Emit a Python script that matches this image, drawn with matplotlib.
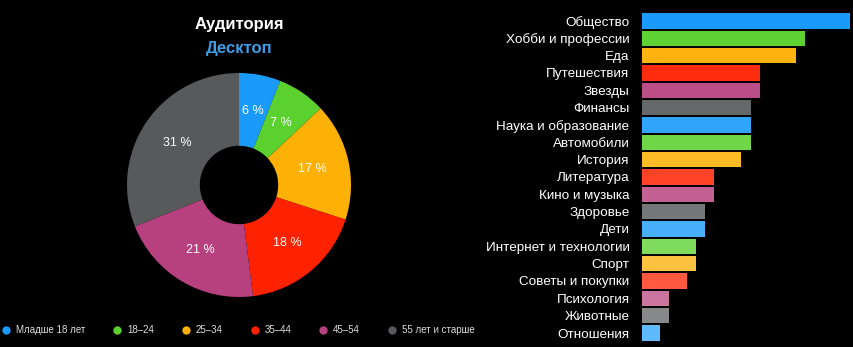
import numpy as np
import matplotlib.pyplot as plt
from matplotlib.colors import to_rgb
from matplotlib.lines import Line2D

plt.rcParams['font.family'] = ['Liberation Sans', 'DejaVu Sans']

# age groups (donut)
age_labels = ["Младше 18 лет", "18–24", "25–34", "35–44", "45–54", "55 лет и старше"]
age_share = [6, 7, 17, 18, 21, 31]

# interests (bars), %
topics = ["Общество", "Хобби и профессии", "Еда", "Путешествия", "Звезды", "Финансы",
          "Наука и образование", "Автомобили", "История", "Литература", "Кино и музыка",
          "Здоровье", "Дети", "Интернет и технологии", "Спорт", "Советы и покупки",
          "Психология", "Животные", "Отношения"]
topic_share = [23, 18, 17, 13, 13, 12, 12, 12, 11, 8, 8, 7, 7, 6, 6, 5, 3, 3, 2]

palette = ["#1a9bfc", "#5bd12f", "#fdb005", "#ff2200", "#b7417e", "#57595b"]

W, H = 854, 347
fig = plt.figure(figsize=(W / 100, H / 100), dpi=100, facecolor="black")

# --- donut ---
cx, cy, r = 239, 162, 112
ax_pie = fig.add_axes([(cx - r) / W, (cy - r) / H, 2 * r / W, 2 * r / H])
ax_pie.set_facecolor("black")
wedges, _, autotexts = ax_pie.pie(
    age_share, colors=palette, startangle=90, counterclock=False,
    autopct=lambda p: f"{p:.0f} %", pctdistance=0.67,
    wedgeprops=dict(width=0.65, linewidth=0), radius=1.0)
for t in autotexts:
    t.set_color("white")
    t.set_fontsize(9)
ax_pie.set_xlim(-1, 1)
ax_pie.set_ylim(-1, 1)
ax_pie.set_aspect("equal")

fig.text(cx / W, 1 - 24 / H, "Аудитория", color="white", fontsize=12,
         fontweight="bold", ha="center", va="center")
fig.text(cx / W, 1 - 48 / H, "Десктоп", color="#3d9de6", fontsize=12,
         fontweight="bold", ha="center", va="center")

# --- legend ---
handles = [Line2D([], [], marker="o", linestyle="", markersize=6,
                  markerfacecolor=c, markeredgewidth=0) for c in palette]
leg = fig.legend(handles, age_labels, loc="center left", bbox_to_anchor=(-0.002, 1 - 330 / H),
                 ncol=6, frameon=False, fontsize=7, labelcolor="#dddddd",
                 handlelength=0.6, handletextpad=0.7, columnspacing=3.0, borderpad=0)

# --- bars ---
def lighten(c, f):
    rgb = np.array(to_rgb(c))
    return tuple(rgb + (1 - rgb) * f)

bar_colors = [lighten(palette[i % 6], 0.3 * i / (len(topics) - 1)) for i in range(len(topics))]

n = len(topics)
step = (333 - 21) / (n - 1)
top_px = 21 - step / 2
ax = fig.add_axes([642 / W, 1 - (top_px + n * step) / H, (850 - 642) / W, n * step / H])
ax.set_facecolor("black")
y = np.arange(n)
ax.barh(y, topic_share, height=0.87, color=bar_colors, linewidth=0)
ax.set_xlim(0, max(topic_share) * 1.0)
ax.set_ylim(n - 0.5, -0.5)
ax.set_yticks(y, labels=topics)
ax.tick_params(axis="y", length=0, pad=9, labelsize=9.7, labelcolor="white")
ax.set_xticks([])
for s in ax.spines.values():
    s.set_visible(False)

fig.savefig("out.png", dpi=100, facecolor="black")
